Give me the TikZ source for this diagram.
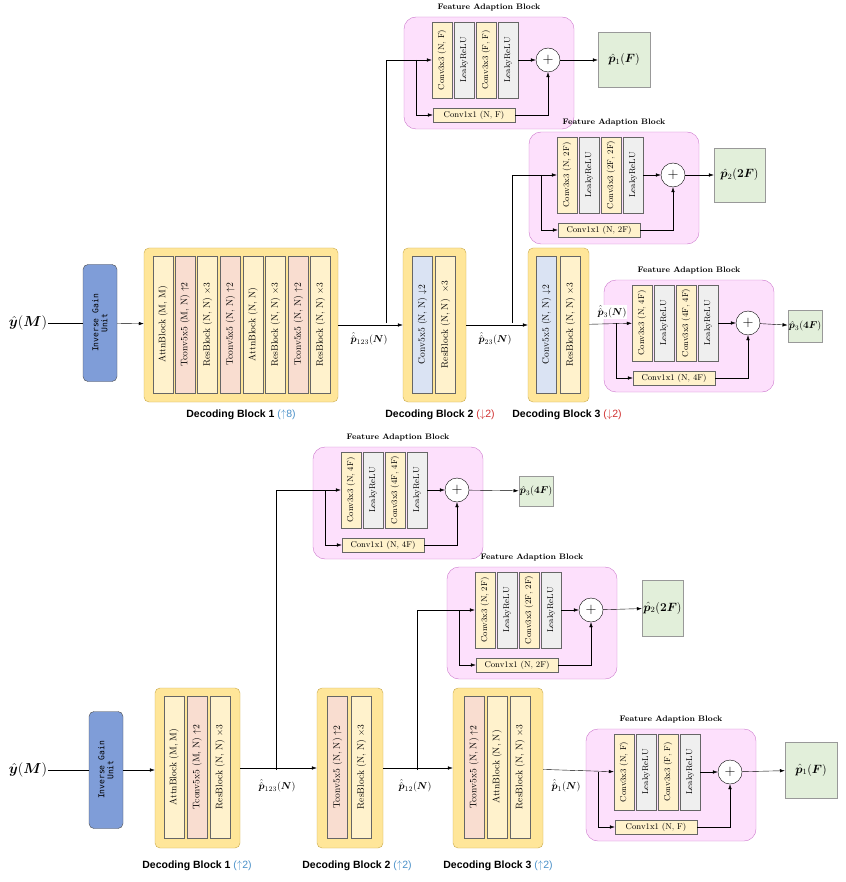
\documentclass[tikz,border=0pt]{standalone}
\usepackage{fontspec}
\setsansfont{Liberation Sans}
\setmonofont{DejaVu Sans Mono}
\usepackage{amsmath,bm}
\usetikzlibrary{arrows.meta, positioning}

\definecolor{dbfill}{HTML}{FFE699}
\definecolor{dbline}{HTML}{C9A94A}
\definecolor{creamc}{HTML}{FFF2CC}
\definecolor{pinkc}{HTML}{F9DDD0}
\definecolor{bluec}{HTML}{DAE3F3}
\definecolor{grayc}{HTML}{EFEFEF}
\definecolor{fabfill}{HTML}{FDE0FC}
\definecolor{fabline}{HTML}{CC77CC}
\definecolor{outc}{HTML}{E2EFDA}
\definecolor{iguc}{HTML}{7F9DD8}
\definecolor{upc}{HTML}{4A90C8}
\definecolor{downc}{HTML}{D03030}

\newcommand{\pp}[1]{\hat{\hat{\bm p}}_{#1}(\bm N)}

% feature adaption block: name, x, y, conv1, conv2, conv1x1
\newcommand{\fab}[6]{%
  \node[fab] (#1) at ({#2+85},{#3+57}) {};
  \node[fabtitle] at ({#2+85},{#3-9}) {Feature Adaption Block};
  \node[bar, fill=creamc] (#1c1) at ({#2+38},{#3+44}) {Conv3x3 #4};
  \node[bar, fill=grayc] (#1r1) at ({#2+60},{#3+44}) {LeakyReLU};
  \node[bar, fill=creamc] (#1c2) at ({#2+82},{#3+44}) {Conv3x3 #5};
  \node[bar, fill=grayc] (#1r2) at ({#2+104},{#3+44}) {LeakyReLU};
  \node[sum] (#1s) at ({#2+144},{#3+44}) {$+$};
  \node[sc] (#1sc) at ({#2+70},{#3+99}) {Conv1x1 #6};
  \coordinate (#1in) at ({#2+12},{#3+44});
  \draw[arr] (#1r2) -- (#1s);
  \draw[arr] (#1in) |- (#1sc);
  \draw[arr] (#1sc) -| (#1s);
}

\tikzset{
  x=1pt, y=-1pt,
  arr/.style={draw, -{Latex[length=5pt,width=3.5pt]}, thin},
  db/.style={draw=dbline, fill=dbfill, rounded corners=5pt},
  bar/.style={draw=black!60, rotate=90, minimum width=76pt, minimum height=20pt,
    inner sep=0pt, font=\fontsize{8.5}{9}\selectfont},
  dbar/.style={bar, minimum width=137pt, font=\fontsize{9.5}{10}\selectfont},
  fab/.style={draw=fabline, fill=fabfill, rounded corners=12pt,
    minimum width=170pt, minimum height=112pt},
  fabtitle/.style={font=\fontsize{8}{9}\selectfont\bfseries},
  sum/.style={draw, circle, fill=white, minimum size=24pt, inner sep=0pt, font=\Large},
  sc/.style={draw=black!60, fill=creamc, minimum width=82pt, minimum height=14pt,
    inner sep=0pt, font=\fontsize{8.5}{9}\selectfont},
  outb/.style={draw=black!40, fill=outc, inner sep=1pt, font=\large},
  igu/.style={draw=black!70, fill=iguc, rounded corners=5pt, rotate=90,
    minimum width=117pt, minimum height=34pt, align=center,
    font=\ttfamily\fontsize{8}{9}\selectfont},
  dblabel/.style={font=\sffamily\bfseries\fontsize{10.5}{12}\selectfont},
  plabel/.style={font=\fontsize{10}{11}\selectfont},
  ylabel/.style={font=\Large, inner sep=1pt}
}

\begin{document}
\begin{tikzpicture}
  \useasboundingbox (0,0) rectangle (845,882);

  % TOP: down-sampling decoder
  \node[ylabel] (y1) at (28,323) {$\hat{\bm y}(\bm M)$};
  \node[igu] (igu1) at (100,323) {Inverse Gain\\Unit};

  \node[db, minimum width=194pt, minimum height=154pt] (b1) at (241,325) {};
  \foreach \x/\c/\t in {163/creamc/{AttnBlock (M, M)}, 185/pinkc/{Tconv5x5 (M, N) $\uparrow$2},
      207.5/creamc/{ResBlock (N, N) $\times$3}, 230.5/pinkc/{Tconv5x5 (N, N) $\uparrow$2},
      253/creamc/{AttnBlock (N, N)}, 275.5/creamc/{ResBlock (N, N) $\times$3},
      298.5/pinkc/{Tconv5x5 (N, N) $\uparrow$2}, 320.5/creamc/{ResBlock (N, N) $\times$3}}
    \node[dbar, fill=\c] at (\x,324.5) {\t};
  \node[dblabel] at (241,415) {Decoding Block 1 \textcolor{upc}{\mdseries($\uparrow$8)}};

  \node[db, minimum width=63pt, minimum height=154pt] (b2) at (434.5,325) {};
  \node[dbar, fill=bluec] at (422.5,324.5) {Conv5x5 (N, N) $\downarrow$2};
  \node[dbar, fill=creamc] at (445.5,324.5) {ResBlock (N, N) \ $\times$3};
  \node[dblabel] at (440,415) {Decoding Block 2 \textcolor{downc}{\mdseries($\downarrow$2)}};

  \node[db, minimum width=61pt, minimum height=154pt] (b3) at (558.5,325) {};
  \node[dbar, fill=bluec] at (546.5,324.5) {Conv5x5 (N, N) $\downarrow$2};
  \node[dbar, fill=creamc] at (570.5,324.5) {ResBlock (N, N) $\times$3};
  \node[dblabel] at (567,415) {Decoding Block 3 \textcolor{downc}{\mdseries($\downarrow$2)}};

  \fab{fa}{404}{16}{(N, F)}{(F, F)}{(N, F)}
  \fab{fb}{529}{131}{(N, 2F)}{(2F, 2F)}{(N, 2F)}
  \fab{fc}{604}{279}{(N, 4F)}{(4F, 4F)}{(N, 4F)}
  \node[outb, minimum width=52pt, minimum height=55pt] (oa) at (624,60) {$\hat{\bm p}_1(\bm F)$};
  \node[outb, minimum width=51pt, minimum height=54pt] (ob) at (739.5,175) {$\hat{\bm p}_2(\bm{2F})$};
  \node[outb, minimum width=30pt, minimum height=32pt, font=\normalsize] (oc) at (805,326) {$\hat{\bm p}_3(\bm{4F})$};

  \coordinate (s1) at (386,323);
  \coordinate (s2) at (512,323);
  \draw (y1) -- (igu1);
  \draw[arr] (igu1) -- (b1);
  \draw[arr] (b1) -- (b2);
  \draw[arr] (b2) -- (b3);
  \draw[arr] (b3) -- (fcc1);
  \draw[arr] (s1) |- (fac1);
  \draw[arr] (s2) |- (fbc1);
  \draw[arr] (fas) -- (oa);
  \draw[arr] (fbs) -- (ob);
  \draw[arr] (fcs) -- (oc);
  \node[plabel] at (369,339) {$\pp{123}$};
  \node[plabel] at (495,339) {$\pp{23}$};
  \node[plabel, fill=white, inner sep=0.5pt] at (612,312) {$\hat{\hat{\bm p}}_3(\bm N)$};

  % BOTTOM: up-sampling decoder
  \node[ylabel] (y2) at (28,770) {$\hat{\bm y}(\bm M)$};
  \node[igu] (igu2) at (106,770) {Inverse Gain\\Unit};

  \node[db, minimum width=85pt, minimum height=160pt] (c1) at (197.5,768) {};
  \foreach \x/\c/\t in {174/creamc/{AttnBlock (M, M)}, 197/pinkc/{Tconv5x5 (M, N) $\uparrow$2},
      220/creamc/{ResBlock (N, N) $\times$3}}
    \node[dbar, fill=\c, minimum width=142pt] at (\x,767) {\t};
  \node[dblabel] at (197,866) {Decoding Block 1 \textcolor{upc}{\mdseries($\uparrow$2)}};

  \node[db, minimum width=66pt, minimum height=160pt] (c2) at (350,768) {};
  \foreach \x/\c/\t in {337.5/pinkc/{Tconv5x5 (N, N) $\uparrow$2}, 361.5/creamc/{ResBlock (N, N) $\times$3}}
    \node[dbar, fill=\c, minimum width=142pt] at (\x,767) {\t};
  \node[dblabel] at (357,866) {Decoding Block 2 \textcolor{upc}{\mdseries($\uparrow$2)}};

  \node[db, minimum width=90pt, minimum height=160pt] (c3) at (498,768) {};
  \foreach \x/\c/\t in {474/pinkc/{Tconv5x5 (N, N) $\uparrow$2}, 497/creamc/{AttnBlock (N, N)},
      520/creamc/{ResBlock (N, N) $\times$3}}
    \node[dbar, fill=\c, minimum width=142pt] at (\x,767) {\t};
  \node[dblabel] at (498,866) {Decoding Block 3 \textcolor{upc}{\mdseries($\uparrow$2)}};

  \fab{fd}{313}{446}{(N, 4F)}{(4F, 4F)}{(N, 4F)}
  \fab{fe}{447}{566}{(N, 2F)}{(2F, 2F)}{(N, 2F)}
  \fab{ff}{586}{728}{(N, F)}{(F, F)}{(N, F)}
  \node[outb, minimum width=34pt, minimum height=30pt, font=\normalsize] (od) at (536,491) {$\hat{\bm p}_3(\bm{4F})$};
  \node[outb, minimum width=41pt, minimum height=56pt] (oe) at (662.5,608) {$\hat{\bm p}_2(\bm{2F})$};
  \node[outb, minimum width=52pt, minimum height=56pt] (of) at (811,770) {$\hat{\bm p}_1(\bm F)$};

  \coordinate (s3) at (276,770);
  \coordinate (s4) at (417,770);
  \draw (y2) -- (igu2);
  \draw[arr] (igu2) -- (igu2 -| c1.west);
  \draw[arr] (c1) -- (c2);
  \draw[arr] (c2) -- (c3);
  \draw[arr] (c3) -- (ffc1);
  \draw[arr] (s3) |- (fdc1);
  \draw[arr] (s4) |- (fec1);
  \draw[arr] (fds) -- (od);
  \draw[arr] (fes) -- (oe);
  \draw[arr] (ffs) -- (of);
  \node[plabel] at (277,786) {$\pp{123}$};
  \node[plabel] at (415,786) {$\pp{12}$};
  \node[plabel] at (566,786) {$\pp{1}$};
\end{tikzpicture}
\end{document}
